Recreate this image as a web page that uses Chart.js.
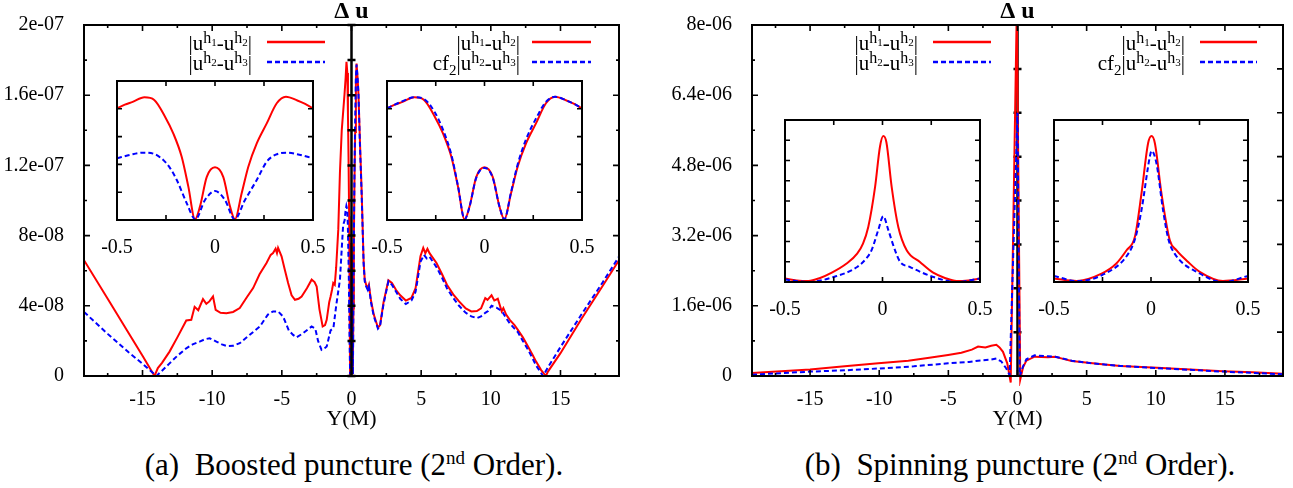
<!DOCTYPE html>
<html>
<head>
<meta charset="utf-8">
<script src="https://cdn.jsdelivr.net/npm/chart.js@4.4.0/dist/chart.umd.min.js"></script>
<style>
  body { margin: 0; background: #fff; }
  #page { position: relative; width: 1293px; height: 488px; overflow: hidden;
          font-family: "Liberation Serif", "Times New Roman", serif; color: #000; }
  .key { position: absolute; z-index: 2; font-size: 21px; line-height: 20px; white-space: nowrap; text-align: right; }
  .key sup { font-size: 16px; vertical-align: 7px; line-height: 0; }
  .key sup sub { font-size: 11px; vertical-align: -3px; }
  .key > sub { font-size: 15px; vertical-align: -5px; line-height: 0; }
  .smp { position: absolute; z-index: 2; }
  .cap { position: absolute; width: 600px; text-align: center; font-size: 31px; line-height: 32px; white-space: nowrap; }
  .cap sup { font-size: 19px; vertical-align: 11px; line-height: 0; }
</style>
</head>
<body>
<div id="page">
  <!-- keys, panel (a) -->
  <div class="key" style="right:1041px; top:33px">|u<sup>h<sub>1</sub></sup>-u<sup>h<sub>2</sub></sup>|</div>
  <div class="key" style="right:1041px; top:53px">|u<sup>h<sub>2</sub></sup>-u<sup>h<sub>3</sub></sup>|</div>
  <svg class="smp" style="left:267px; top:40px" width="58" height="4"><line x1="0" y1="2" x2="58" y2="2" stroke="#ff0000" stroke-width="2.5"/></svg>
  <svg class="smp" style="left:267px; top:60px" width="58" height="4"><line x1="0" y1="2" x2="58" y2="2" stroke="#0000ff" stroke-width="2.5" stroke-dasharray="5 3"/></svg>

  <div class="key" style="right:773px; top:33px">|u<sup>h<sub>1</sub></sup>-u<sup>h<sub>2</sub></sup>|</div>
  <div class="key" style="right:773px; top:53px">cf<sub>2</sub>|u<sup>h<sub>2</sub></sup>-u<sup>h<sub>3</sub></sup>|</div>
  <svg class="smp" style="left:532px; top:40px" width="59" height="4"><line x1="0" y1="2" x2="59" y2="2" stroke="#ff0000" stroke-width="2.5"/></svg>
  <svg class="smp" style="left:532px; top:60px" width="59" height="4"><line x1="0" y1="2" x2="59" y2="2" stroke="#0000ff" stroke-width="2.5" stroke-dasharray="5 3"/></svg>

  <!-- keys, panel (b) -->
  <div class="key" style="right:375px; top:33px">|u<sup>h<sub>1</sub></sup>-u<sup>h<sub>2</sub></sup>|</div>
  <div class="key" style="right:375px; top:53px">|u<sup>h<sub>2</sub></sup>-u<sup>h<sub>3</sub></sup>|</div>
  <svg class="smp" style="left:933px; top:40px" width="58" height="4"><line x1="0" y1="2" x2="58" y2="2" stroke="#ff0000" stroke-width="2.5"/></svg>
  <svg class="smp" style="left:933px; top:60px" width="58" height="4"><line x1="0" y1="2" x2="58" y2="2" stroke="#0000ff" stroke-width="2.5" stroke-dasharray="5 3"/></svg>

  <div class="key" style="right:108px; top:33px">|u<sup>h<sub>1</sub></sup>-u<sup>h<sub>2</sub></sup>|</div>
  <div class="key" style="right:108px; top:53px">cf<sub>2</sub>|u<sup>h<sub>2</sub></sup>-u<sup>h<sub>3</sub></sup>|</div>
  <svg class="smp" style="left:1200px; top:40px" width="57" height="4"><line x1="0" y1="2" x2="57" y2="2" stroke="#ff0000" stroke-width="2.5"/></svg>
  <svg class="smp" style="left:1200px; top:60px" width="57" height="4"><line x1="0" y1="2" x2="57" y2="2" stroke="#0000ff" stroke-width="2.5" stroke-dasharray="5 3"/></svg>

  <div class="cap" style="left:54px; top:449px">(a)&nbsp;&nbsp;Boosted puncture (2<sup>nd</sup> Order).</div>
  <div class="cap" style="left:720px; top:449px">(b)&nbsp;&nbsp;Spinning puncture (2<sup>nd</sup> Order).</div>
</div>

<script>
// panel (a), y values in units of 1e-8
const aRed = [[-19.2,6.6],[-17.5,4.4],[-16,2.45],[-15,1.15],[-14.14,0],[-13.9,0.45],[-13.6,0.75],[-13.06,1.39],
  [-12.5,2.2],[-11.86,3.16],[-11.5,3.2],[-11.26,3.94],[-11,3.75],[-10.66,4.38],[-10.42,4.11],[-10.2,4.25],
  [-9.94,4.53],[-9.75,3.77],[-9.4,3.6],[-8.98,3.58],[-8.5,3.65],[-8.02,3.87],[-7.5,4.5],[-7.06,5.01],[-6.6,5.8],
  [-6.1,6.44],[-5.8,6.9],[-5.63,7.01],[-5.45,7.25],[-5.35,7.0],[-5.27,7.3],[-5.02,6.82],[-4.8,6.1],[-4.55,5.3],
  [-4.3,4.6],[-4.06,4.34],[-3.8,4.4],[-3.58,4.53],[-3.2,5.0],[-2.86,5.49],[-2.65,5.35],[-2.5,5.1],[-2.3,3.8],
  [-2.07,2.82],[-1.9,2.9],[-1.78,3.2],[-1.6,4.2],[-1.5,4.53],[-1.4,4.9],[-1.31,5.3],[-1.2,5.2],[-1.1,6.2],
  [-0.95,8.34],[-0.83,11.6],[-0.7,14],[-0.5,16.07],[-0.42,17.0],[-0.36,17.9],[-0.3,17.27],[-0.255,14.87],
  [-0.213,12.47],[-0.17,9.1],[-0.136,4.8],[-0.102,0.1],[-0.077,1.9],[-0.042,6.2],[0,7.58],[0.042,6.2],
  [0.077,1.9],[0.102,0.1],[0.136,3.84],[0.17,7.67],[0.213,11.03],[0.264,13.9],[0.315,16.8],[0.362,17.8],
  [0.434,17.02],[0.5,16.07],[0.6,13.5],[0.73,10.5],[0.87,6.5],[0.95,5.5],[1.05,5.2],[1.17,5.0],[1.25,5.2],
  [1.4,4.3],[1.6,3.5],[1.9,2.75],[2.05,2.9],[2.3,4.2],[2.65,5.45],[2.9,5.3],[3.2,4.9],[3.5,4.6],[3.9,4.3],
  [4.3,4.45],[4.6,5.0],[4.95,6.82],[5.15,7.3],[5.3,7.0],[5.45,7.25],[5.6,7.0],[6.1,6.44],[6.5,5.8],[6.85,5.2],
  [7.3,4.65],[7.72,4.25],[8.2,3.85],[8.6,3.68],[9,3.7],[9.3,3.85],[9.6,4.44],[9.76,4.34],[10.05,4.6],
  [10.25,4.3],[10.5,4.4],[10.78,3.68],[10.9,3.87],[11.1,3.5],[11.36,3.2],[11.7,2.9],[11.94,2.63],[12.3,2.2],
  [12.67,1.68],[13,1.2],[13.25,0.82],[13.6,0.35],[13.95,0],[14.1,0.25],[15,1.3],[16.5,3.25],[18,5.1],[19.2,6.6]];

const aBlue = [[-19.2,3.65],[-17.5,2.4],[-16,1.35],[-15,0.7],[-14,0],[-13.6,0.3],[-13.06,0.72],[-12.5,1.15],
  [-11.86,1.58],[-11.4,1.8],[-10.9,1.96],[-10.5,2.1],[-10.18,2.15],[-9.7,1.96],[-9.3,1.8],[-8.98,1.71],
  [-8.5,1.72],[-8.02,1.87],[-7.3,2.35],[-6.58,2.82],[-6,3.5],[-5.63,3.68],[-5.27,3.68],[-4.91,3.39],[-4.5,2.6],
  [-4.19,2.34],[-3.94,2.2],[-3.47,2.44],[-2.86,2.82],[-2.6,2.7],[-2.4,2.0],[-2.15,1.49],[-1.9,1.6],[-1.78,1.68],
  [-1.5,2.6],[-1.3,2.72],[-1.1,4.0],[-0.83,5.49],[-0.6,8.6],[-0.493,8.87],[-0.43,9.4],[-0.366,9.69],[-0.31,9.5],
  [-0.264,8.63],[-0.195,5.76],[-0.144,2.4],[-0.1,0.1],[-0.051,2.88],[0,4.17],[0.042,6.1],[0.077,1.9],[0.102,0.1],
  [0.136,4.0],[0.17,8.0],[0.213,11.6],[0.264,14.6],[0.315,17.0],[0.362,17.74],[0.434,17.02],[0.5,16.07],
  [0.6,13.3],[0.73,10.3],[0.87,6.4],[0.95,5.4],[1.05,5.1],[1.17,4.9],[1.25,5.1],[1.4,4.2],[1.6,3.4],[1.9,2.7],
  [2.05,2.85],[2.3,4.1],[2.65,5.4],[2.9,5.2],[3.2,4.8],[3.5,4.4],[3.9,4.1],[4.3,4.3],[4.6,4.8],[4.95,6.5],
  [5.2,6.9],[5.4,6.7],[5.6,6.8],[6.1,6.2],[6.5,5.6],[6.85,5.0],[7.3,4.45],[7.72,4.0],[8.2,3.6],[8.6,3.4],
  [9,3.3],[9.3,3.4],[9.6,3.6],[9.8,3.7],[10.05,4.0],[10.4,3.9],[10.8,3.7],[11.1,3.3],[11.36,3.0],[11.7,2.7],
  [11.94,2.5],[12.3,2.0],[12.67,1.5],[13,1.0],[13.25,0.6],[13.75,0],[14.1,0.5],[15,1.65],[16.5,3.5],[18,5.3],[19.2,6.8]];

// insets of (a), |Y| < 0.5
const aInRed = [[-0.5,16.07],[-0.46,16.6],[-0.42,17.0],[-0.36,17.65],[-0.31,17.27],[-0.255,14.87],[-0.213,12.47],
  [-0.17,9.1],[-0.136,4.8],[-0.102,0.1],[-0.077,1.9],[-0.042,6.2],[0,7.58],[0.042,6.2],[0.077,1.9],[0.102,0.1],
  [0.136,3.84],[0.17,7.67],[0.213,11.03],[0.264,13.9],[0.315,16.8],[0.362,17.74],[0.42,17.2],[0.46,16.7],[0.5,16.07]];
const aInBlue = [[-0.5,8.87],[-0.43,9.4],[-0.366,9.69],[-0.31,9.5],[-0.264,8.63],[-0.23,7.5],[-0.195,5.76],
  [-0.144,2.4],[-0.1,0.1],[-0.051,2.88],[0,4.17],[0.051,2.88],[0.1,0.1],[0.153,2.88],[0.213,5.76],[0.264,8.39],
  [0.31,9.4],[0.366,9.69],[0.43,9.4],[0.5,8.87]];
const aInBlueCf = [[-0.5,16.07],[-0.46,16.6],[-0.42,17.1],[-0.36,17.65],[-0.31,17.4],[-0.255,15.5],[-0.213,13.0],
  [-0.17,9.4],[-0.136,4.9],[-0.102,0.1],[-0.077,1.9],[-0.042,6.1],[0,7.5],[0.042,6.1],[0.077,1.9],[0.102,0.1],
  [0.136,4.0],[0.17,8.0],[0.213,11.6],[0.264,14.6],[0.315,17.0],[0.362,17.74],[0.42,17.2],[0.46,16.7],[0.5,16.07]];

// panel (b), y values in units of 1e-6
const bRed = [[-19.2,0.07],[-15,0.15],[-12.5,0.22],[-10.07,0.29],[-7.9,0.35],[-6.5,0.41],[-5.02,0.48],[-4.06,0.53],
  [-3.3,0.6],[-2.85,0.67],[-2.6,0.66],[-2.32,0.65],[-1.9,0.69],[-1.53,0.71],[-1.3,0.65],[-1.05,0.55],[-0.74,0.29],
  [-0.49,-0.15],[-0.05,8.4],[0.2,-0.08],[0.4,0.2],[0.64,0.35],[1.24,0.44],[2.2,0.43],[2.73,0.44],[3.3,0.39],
  [3.92,0.34],[5.1,0.3],[6.3,0.26],[7.46,0.23],[10.1,0.19],[12.5,0.15],[14.85,0.11],[17,0.085],[19.2,0.05]];
const bBlue = [[-19.2,0.03],[-15,0.1],[-12.5,0.13],[-10.07,0.17],[-7.5,0.22],[-5.02,0.29],[-3.5,0.32],[-2.85,0.35],
  [-2,0.37],[-1.53,0.4],[-1.17,0.33],[-0.81,0.17],[-0.57,0.02],[0,6.0],[0.16,0],[0.4,0.22],[0.64,0.38],[1.24,0.47],
  [2.2,0.45],[2.73,0.44],[3.92,0.35],[5.1,0.3],[7.46,0.23],[10.1,0.18],[14.85,0.1],[19.2,0.04]];

const bInRed = [[-0.5,0.17],[-0.44,0.08],[-0.38,0.05],[-0.32,0.2],[-0.26,0.46],[-0.184,0.91],[-0.13,1.4],[-0.1,1.9],
  [-0.073,2.72],[-0.038,4.7],[-0.013,6.68],[0.004,7.21],[0.02,6.9],[0.047,4.7],[0.081,2.72],[0.124,1.57],
  [0.192,0.99],[0.26,0.46],[0.32,0.2],[0.38,0.05],[0.44,0.08],[0.5,0.17]];
const bInBlue = [[-0.5,0.12],[-0.38,0],[-0.25,0.25],[-0.13,0.74],[-0.08,1.2],[-0.056,1.57],[-0.022,2.56],[0.004,3.25],
  [0.03,2.56],[0.064,1.57],[0.09,1.0],[0.141,0.74],[0.26,0.25],[0.38,0],[0.5,0.17]];
const bInRedCf = [[-0.5,0.17],[-0.383,0.05],[-0.255,0.41],[-0.18,0.9],[-0.126,1.57],[-0.083,2.23],[-0.049,4.37],
  [-0.015,6.85],[0.003,7.21],[0.02,6.85],[0.054,4.37],[0.097,2.06],[0.131,1.57],[0.19,1.0],[0.251,0.5],[0.371,0.05],[0.5,0.17]];
const bInBlueCf = [[-0.5,0.3],[-0.383,0.05],[-0.255,0.33],[-0.117,1.4],[-0.08,2.2],[-0.049,3.55],[-0.006,6.19],
  [0.003,6.48],[0.028,5.86],[0.062,3.55],[0.09,2.1],[0.122,1.4],[0.251,0.42],[0.371,0],[0.5,0.3]];

// ticks and labels
const xLabelsMain = [-15, -10, -5, 0, 5, 10, 15];
const xMinorMain = [-17.5, -12.5, -7.5, -2.5, 2.5, 7.5, 12.5, 17.5];
const yTicksA = [0, 4e-8, 8e-8, 1.2e-7, 1.6e-7, 2e-7];
const yLabelsA = ['0', '4e-08', '8e-08', '1.2e-07', '1.6e-07', '2e-07'];
const yMinorA = [2e-8, 6e-8, 1e-7, 1.4e-7, 1.8e-7];
const yTicksB = [0, 1.6e-6, 3.2e-6, 4.8e-6, 6.4e-6, 8e-6];
const yLabelsB = ['0', '1.6e-06', '3.2e-06', '4.8e-06', '6.4e-06', '8e-06'];
const yMinorB = [0.8e-6, 2.4e-6, 4e-6, 5.6e-6, 7.2e-6];
const yRightB = [1e-6, 2e-6, 3e-6, 4e-6, 5e-6, 6e-6, 7e-6];
const insetXLabels = [-0.5, 0, 0.5];
const insetXMinor = [-0.25, 0.25];
const insetYA = [4e-8, 8e-8, 1.2e-7, 1.6e-7];
const insetYB = [1e-6, 2e-6, 3e-6, 4e-6, 5e-6, 6e-6, 7e-6];

const RED = '#ff0000', BLUE = '#0000ff';
Chart.defaults.font.family = '"Liberation Serif", "Times New Roman", serif';
Chart.defaults.font.size = 20;
Chart.defaults.color = '#000';

const page = document.getElementById('page');

function place(left, top, w, h) {
  const c = document.createElement('canvas');
  c.width = w; c.height = h;
  c.style.cssText = `position:absolute;left:${left}px;top:${top}px`;
  page.appendChild(c);
  return c;
}

function series(pairs, unit, color, dashed, extra) {
  return Object.assign({
    data: pairs.map(p => ({ x: p[0], y: p[1] * unit })),
    borderColor: color,
    borderWidth: 2,
    borderDash: dashed ? [5, 3] : [],
    pointRadius: 0,
    fill: false,
    tension: 0
  }, extra || {});
}

// gnuplot style box: frame, inward ticks on all sides, optional zero axis
function drawZero(chart, z) {
  const { ctx, chartArea: a, scales: { x, y } } = chart;
  const px = x.getPixelForValue(0);
  ctx.save();
  ctx.strokeStyle = '#000';
  ctx.lineWidth = 2.5;
  ctx.beginPath();
  ctx.moveTo(px, a.top); ctx.lineTo(px, a.bottom);
  z.ticks.forEach(v => {
    const py = y.getPixelForValue(v);
    ctx.moveTo(px - 4, py); ctx.lineTo(px + 4, py);
  });
  ctx.stroke();
  ctx.restore();
}

const frameTicks = {
  id: 'frameTicks',
  beforeDraw(chart, args, o) {
    if (!o.fill) return;
    const { ctx, chartArea: a } = chart;
    ctx.save();
    ctx.fillStyle = '#fff';
    ctx.fillRect(a.left, a.top, a.width, a.height);
    ctx.restore();
  },
  beforeDatasetsDraw(chart, args, o) {
    if (o.zero && !o.zero.onTop) drawZero(chart, o.zero);
  },
  afterDatasetsDraw(chart, args, o) {
    const { ctx, chartArea: a, scales: { x, y } } = chart;
    if (o.zero && o.zero.onTop) drawZero(chart, o.zero);
    ctx.save();
    ctx.strokeStyle = '#000';
    ctx.lineWidth = 1.6;
    ctx.beginPath();
    (o.xt || []).forEach(([vals, len]) => vals.forEach(v => {
      const p = x.getPixelForValue(v);
      ctx.moveTo(p, a.bottom); ctx.lineTo(p, a.bottom - len);
      ctx.moveTo(p, a.top); ctx.lineTo(p, a.top + len);
    }));
    (o.yl || []).forEach(([vals, len]) => vals.forEach(v => {
      const p = y.getPixelForValue(v);
      ctx.moveTo(a.left, p); ctx.lineTo(a.left + len, p);
    }));
    (o.yr || []).forEach(([vals, len]) => vals.forEach(v => {
      const p = y.getPixelForValue(v);
      ctx.moveTo(a.right, p); ctx.lineTo(a.right - len, p);
    }));
    ctx.stroke();
    ctx.lineWidth = 2;
    ctx.strokeRect(a.left, a.top, a.width, a.height);
    ctx.restore();
  }
};

function drawMain(canvas, o) {
  return new Chart(canvas, {
    type: 'line',
    data: { datasets: o.datasets },
    options: {
      responsive: false,
      animation: false,
      layout: { padding: { left: 0, right: o.padRight, top: 0, bottom: 0 } },
      plugins: {
        legend: { display: false },
        tooltip: { enabled: false },
        title: {
          display: true, text: 'Δ u', fullSize: false, color: '#000',
          font: { size: 24, weight: 'bold', lineHeight: 1 },
          padding: { top: 0, bottom: 1 }
        },
        frameTicks: o.frame
      },
      scales: {
        x: {
          type: 'linear', min: -19.2, max: 19.2,
          afterFit: s => { s.height = 56; },
          afterBuildTicks: s => { s.ticks = xLabelsMain.map(v => ({ value: v })); },
          grid: { display: false }, border: { display: false },
          ticks: { padding: 4, maxRotation: 0, autoSkip: false, callback: v => String(v) },
          title: { display: true, text: 'Y(M)', padding: 0, font: { size: 22 } }
        },
        y: {
          min: 0, max: o.yMax,
          afterFit: s => { s.width = o.yWidth; },
          afterBuildTicks: s => { s.ticks = o.yTicks.map(v => ({ value: v })); },
          grid: { display: false }, border: { display: false },
          ticks: { padding: 12, autoSkip: false, callback: (v, i) => o.yLabels[i] }
        }
      }
    },
    plugins: [frameTicks]
  });
}

function drawInset(f, o) {
  const c = place(f.l - 25, f.t - 4, f.w + 50, f.h + 38);
  return new Chart(c, {
    type: 'line',
    data: { datasets: o.datasets },
    options: {
      responsive: false,
      animation: false,
      layout: { padding: { left: 25, right: 25, top: 4, bottom: 0 } },
      plugins: {
        legend: { display: false },
        tooltip: { enabled: false },
        frameTicks: {
          fill: true,
          xt: [[insetXLabels.concat(insetXMinor), 5]],
          yl: [[o.yTicks, 5]],
          yr: [[o.yTicks, 5]]
        }
      },
      scales: {
        x: {
          type: 'linear', min: -0.5, max: 0.5,
          afterFit: s => { s.height = 34; },
          afterBuildTicks: s => { s.ticks = insetXLabels.map(v => ({ value: v })); },
          grid: { display: false }, border: { display: false },
          ticks: { padding: 8, maxRotation: 0, autoSkip: false, callback: v => String(v) }
        },
        y: { display: false, min: 0, max: o.yMax }
      }
    },
    plugins: [frameTicks]
  });
}

const smooth = { cubicInterpolationMode: 'monotone' };

// panel (a)
drawMain(place(0, 0, 646, 432), {
  padRight: 27, yWidth: 84, yMax: 2e-7, yTicks: yTicksA, yLabels: yLabelsA,
  datasets: [series(aBlue, 1e-8, BLUE, true), series(aRed, 1e-8, RED, false)],
  frame: {
    xt: [[xLabelsMain, 6], [xMinorMain, 3]],
    yl: [[yTicksA, 6], [yMinorA, 3]],
    yr: [[yTicksA, 6], [yMinorA, 3]],
    zero: { onTop: true, ticks: yTicksA.concat(yMinorA) }
  }
});
drawInset({ l: 117, t: 81, w: 196, h: 139 }, {
  yMax: 2e-7, yTicks: insetYA,
  datasets: [series(aInBlue, 1e-8, BLUE, true, smooth), series(aInRed, 1e-8, RED, false, smooth)]
});
drawInset({ l: 387, t: 81, w: 195, h: 139 }, {
  yMax: 2e-7, yTicks: insetYA,
  datasets: [series(aInBlueCf, 1e-8, BLUE, true, smooth), series(aInRed, 1e-8, RED, false, smooth)]
});

// panel (b)
drawMain(place(646, 0, 647, 432), {
  padRight: 10, yWidth: 106, yMax: 8e-6, yTicks: yTicksB, yLabels: yLabelsB,
  datasets: [
    series(bBlue, 1e-6, BLUE, true),
    series(bRed, 1e-6, RED, false, { clip: { left: 0, top: 0, right: 0, bottom: 10 } })
  ],
  frame: {
    xt: [[xLabelsMain, 6], [xMinorMain, 3]],
    yl: [[yTicksB, 6], [yMinorB, 3]],
    yr: [[yRightB, 6]],
    zero: { onTop: false, ticks: yRightB }
  }
});
drawInset({ l: 785, t: 120, w: 195, h: 162 }, {
  yMax: 8e-6, yTicks: insetYB,
  datasets: [series(bInBlue, 1e-6, BLUE, true, smooth), series(bInRed, 1e-6, RED, false, smooth)]
});
drawInset({ l: 1054, t: 120, w: 194, h: 162 }, {
  yMax: 8e-6, yTicks: insetYB,
  datasets: [series(bInBlueCf, 1e-6, BLUE, true, smooth), series(bInRedCf, 1e-6, RED, false, smooth)]
});
</script>
</body>
</html>
